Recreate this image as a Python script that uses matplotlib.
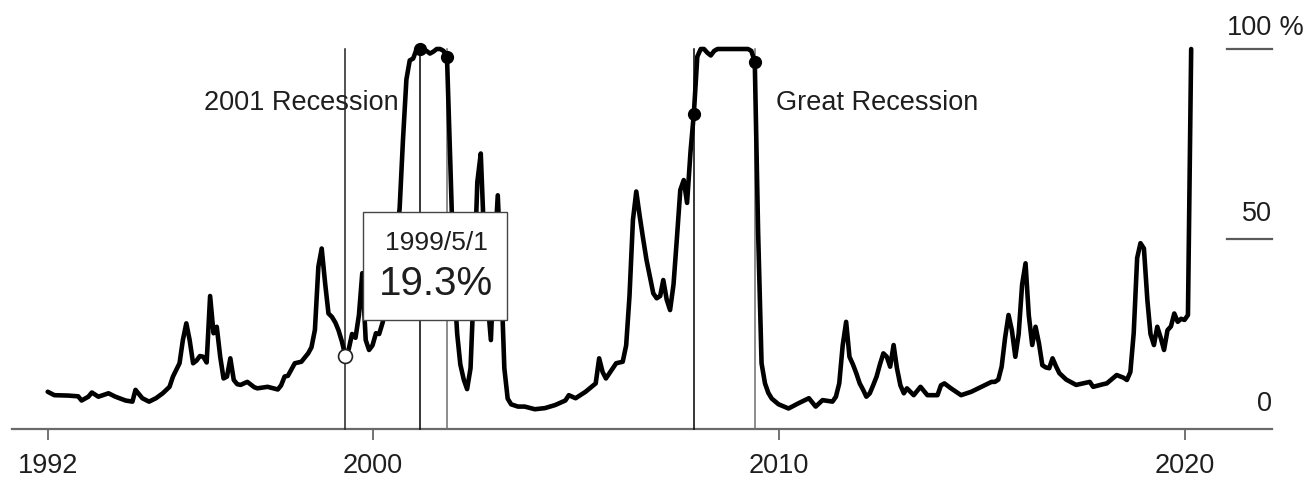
import matplotlib
matplotlib.use("Agg")
import matplotlib.pyplot as plt
import matplotlib.dates as mdates
import matplotlib.transforms as mtransforms
from matplotlib.patches import Rectangle
import pandas as pd

# ---------------- data ----------------
dates = [
    "1992-01", "1992-03", "1992-07", "1992-10", "1992-11", "1993-01", "1993-02", "1993-04",
    "1993-07", "1993-09", "1993-12", "1994-02", "1994-03", "1994-05", "1994-07", "1994-09",
    "1994-11", "1995-01", "1995-02", "1995-04", "1995-05", "1995-06", "1995-07", "1995-08",
    "1995-09", "1995-10", "1995-11", "1995-12", "1996-01", "1996-02", "1996-03", "1996-04",
    "1996-05", "1996-06", "1996-07", "1996-08", "1996-09", "1996-10", "1996-12", "1997-02",
    "1997-03", "1997-06", "1997-09", "1997-10", "1997-11", "1997-12", "1998-02", "1998-04",
    "1998-06", "1998-07", "1998-08", "1998-09", "1998-10", "1998-11", "1998-12", "1999-01",
    "1999-02", "1999-03", "1999-04", "1999-05", "1999-06", "1999-07", "1999-08", "1999-09",
    "1999-10", "1999-11", "1999-12", "2000-01", "2000-02", "2000-03", "2000-04", "2000-05",
    "2000-06", "2000-07", "2000-08", "2000-09", "2000-10", "2000-11", "2000-12", "2001-01",
    "2001-02", "2001-03", "2001-04", "2001-05", "2001-06", "2001-07", "2001-08", "2001-09",
    "2001-10", "2001-11", "2001-12", "2002-01", "2002-02", "2002-03", "2002-04", "2002-05",
    "2002-06", "2002-07", "2002-08", "2002-09", "2002-10", "2002-11", "2002-12", "2003-01",
    "2003-02", "2003-03", "2003-04", "2003-05", "2003-06", "2003-08", "2003-10", "2004-01",
    "2004-04", "2004-07", "2004-10", "2004-11", "2005-01", "2005-04", "2005-07", "2005-08",
    "2005-09", "2005-10", "2006-01", "2006-03", "2006-04", "2006-05", "2006-06", "2006-07",
    "2006-08", "2006-09", "2006-10", "2006-11", "2006-12", "2007-01", "2007-02", "2007-03",
    "2007-04", "2007-05", "2007-06", "2007-07", "2007-08", "2007-09", "2007-10", "2007-11",
    "2007-12", "2008-01", "2008-02", "2008-03", "2008-04", "2008-05", "2008-06", "2008-07",
    "2009-04", "2009-05", "2009-06", "2009-07", "2009-08", "2009-09", "2009-10", "2009-11",
    "2010-01", "2010-04", "2010-07", "2010-10", "2010-12", "2011-02", "2011-05", "2011-06",
    "2011-07", "2011-08", "2011-09", "2011-10", "2011-11", "2011-12", "2012-01", "2012-02",
    "2012-03", "2012-04", "2012-05", "2012-06", "2012-07", "2012-08", "2012-09", "2012-10",
    "2012-11", "2012-12", "2013-01", "2013-02", "2013-03", "2013-05", "2013-07", "2013-09",
    "2013-12", "2014-01", "2014-02", "2014-04", "2014-07", "2014-10", "2015-01", "2015-04",
    "2015-05", "2015-06", "2015-07", "2015-08", "2015-09", "2015-10", "2015-11", "2015-12",
    "2016-01", "2016-02", "2016-03", "2016-04", "2016-05", "2016-06", "2016-07", "2016-08",
    "2016-09", "2016-10", "2016-11", "2016-12", "2017-02", "2017-05", "2017-09", "2017-10",
    "2018-01", "2018-02", "2018-05", "2018-07", "2018-08", "2018-09", "2018-10", "2018-11",
    "2018-12", "2019-01", "2019-02", "2019-03", "2019-04", "2019-05", "2019-06", "2019-07",
    "2019-08", "2019-09", "2019-10", "2019-11", "2019-12", "2020-01", "2020-02", "2020-03",
]
probability = [
    9.8, 8.9, 8.8, 8.6, 7.5, 8.5, 9.6, 8.5,
    9.4, 8.5, 7.5, 7.2, 10.3, 8.1, 7.2, 8.1,
    9.4, 11.1, 13.8, 17.3, 23.4, 27.8, 23.4, 17.3,
    18.0, 19.2, 19.0, 17.5, 35.0, 25.2, 26.9, 19.0,
    13.3, 13.8, 18.6, 12.9, 11.8, 11.6, 12.4, 11.0,
    10.7, 11.1, 10.4, 11.5, 13.8, 14.0, 17.3, 17.7,
    19.9, 21.5, 26.1, 42.7, 47.5, 38.3, 30.4, 29.5,
    28.0, 26.0, 23.0, 19.3, 21.0, 25.0, 24.0, 30.0,
    41.0, 23.4, 20.8, 22.0, 25.2, 25.0, 28.0, 32.0,
    38.0, 45.0, 50.0, 58.0, 76.0, 92.0, 97.0, 97.5,
    100.0, 100.0, 99.5, 99.5, 98.8, 99.3, 100.0, 100.0,
    99.5, 98.0, 70.0, 40.0, 25.0, 17.0, 13.0, 10.5,
    16.0, 38.0, 65.0, 72.5, 50.0, 34.0, 23.4, 45.0,
    61.5, 42.0, 16.0, 8.0, 6.5, 5.9, 5.9, 5.2,
    5.5, 6.3, 7.5, 8.9, 8.1, 9.8, 12.0, 18.6,
    15.0, 13.3, 17.3, 17.7, 22.0, 35.0, 55.0, 62.5,
    56.0, 50.0, 44.5, 40.0, 35.7, 34.4, 35.0, 39.2,
    34.0, 31.3, 38.0, 50.0, 62.9, 65.5, 59.5, 73.0,
    83.0, 98.0, 100.0, 100.0, 99.0, 98.3, 99.5, 100.0,
    100.0, 99.5, 96.7, 52.0, 17.3, 12.0, 9.5, 8.0,
    6.5, 5.4, 6.8, 8.1, 5.9, 7.6, 7.2, 8.5,
    12.0, 22.0, 28.2, 19.0, 17.0, 14.7, 12.0, 10.3,
    8.5, 9.4, 11.5, 13.8, 17.0, 19.9, 19.0, 16.4,
    22.1, 16.0, 11.5, 9.4, 10.7, 8.9, 11.1, 8.9,
    8.9, 11.5, 12.0, 10.7, 8.9, 9.8, 11.1, 12.4,
    12.4, 13.0, 16.4, 24.0, 30.0, 26.0, 19.0, 25.0,
    38.0, 43.6, 30.0, 22.1, 26.9, 22.5, 16.8, 16.2,
    16.0, 18.6, 16.5, 14.7, 13.0, 11.6, 12.4, 11.1,
    11.8, 12.0, 14.2, 13.5, 12.9, 15.0, 25.2, 45.0,
    48.9, 47.5, 33.9, 25.0, 22.1, 26.9, 24.0, 20.8,
    26.0, 27.0, 30.4, 28.2, 29.0, 28.7, 30.0, 100.0,
]

event_dates = ["2001-03", "2001-11", "2007-12", "2009-06"]
recession_names = ["2001 Recession", "Great Recession"]
hover_date = "1999-05"
hover_label = "1999/5/1"
year_ticks = [1992, 2000, 2010, 2020]
y_ticks = [0, 50, 100]
y_tick_labels = ["0", "50", "100"]

# ---------------- style ----------------
plt.rcParams["font.family"] = ["Liberation Sans", "DejaVu Sans"]
TEXT = "#1e1e1e"
GREY = "#5a5a5a"
FS = 19.5

W, H = 1312, 482
fig = plt.figure(figsize=(W / 100, H / 100), dpi=100)
ax = fig.add_axes([12 / W, (H - 429) / H, 1260 / W, 380 / H])

x = pd.to_datetime(dates)
series = dict(zip(dates, probability))

ax.plot(x, probability, color="black", lw=3.3, solid_joinstyle="round",
        solid_capstyle="round", zorder=4, clip_on=False)

# x limits: 2000-01-01 sits at pixel ~372.5, 40.6 px per year
px_per_day = 40.6 / 365.25
anchor = pd.Timestamp("2000-01-01")
ax.set_xlim(anchor - pd.Timedelta(days=(372.5 - 12) / px_per_day),
            anchor + pd.Timedelta(days=(1272 - 372.5) / px_per_day))
ax.set_ylim(0, 100)

for s in ["top", "right", "left"]:
    ax.spines[s].set_visible(False)
ax.spines["bottom"].set_color("#6a6a6a")
ax.spines["bottom"].set_linewidth(1.6)
ax.set_yticks([])
ax.set_xticks([pd.Timestamp(f"{y}-01-01") for y in year_ticks])
ax.set_xticklabels([str(y) for y in year_ticks])
ax.tick_params(axis="x", direction="out", length=8, width=1.2, color=GREY,
               labelsize=FS, labelcolor=TEXT, pad=9)

# right-hand value scale
yt = ax.get_yaxis_transform()
for v, lab in zip(y_ticks, y_tick_labels):
    off = 10 if v == 100 else 13
    if v > 0:
        ax.plot([0.964, 1.0], [v, v], transform=yt, color=GREY, lw=1.6,
                clip_on=False, zorder=2)
    ax.annotate(lab, xy=(1.0, v), xycoords=yt, xytext=(0, off),
                textcoords="offset points", ha="right", va="baseline",
                fontsize=FS, color=TEXT)
    if v == 100:
        ax.annotate(" %", xy=(1.0, v), xycoords=yt, xytext=(0, off),
                    textcoords="offset points", ha="left", va="baseline",
                    fontsize=FS, color=TEXT)

# recession markers
line_colors = ["black", "#6e6e6e", "black", "#6e6e6e"]
for d, c in zip(event_dates, line_colors):
    ax.plot([pd.Timestamp(d)] * 2, [0, 100], color=c, lw=1.1, zorder=3, clip_on=False)
    ax.plot(pd.Timestamp(d), series[d], "o", color="black", ms=8.5, zorder=6, clip_on=False)

ax.annotate(recession_names[0], xy=(pd.Timestamp(event_dates[0]), 85.8),
            xytext=(-15, 0), textcoords="offset points", ha="right", va="center",
            fontsize=FS, color=TEXT)
ax.annotate(recession_names[1], xy=(pd.Timestamp(event_dates[3]), 85.8),
            xytext=(15, 0), textcoords="offset points", ha="left", va="center",
            fontsize=FS, color=TEXT)

# hover crosshair + tooltip
hd = pd.Timestamp(hover_date)
hv = series[hover_date]
ax.plot([hd, hd], [0, 100], color="#222222", lw=1.1, zorder=3, clip_on=False)
ax.plot(hd, hv, "o", mfc="white", mec="#222222", mew=1.2, ms=10, zorder=7, clip_on=False)

hx = mdates.date2num(hd)
tip = mtransforms.IdentityTransform() + mtransforms.ScaledTranslation(hx, hv, ax.transData)
ax.add_patch(Rectangle((18, 36), 144, 108, transform=tip, facecolor="white",
                       edgecolor="#444444", lw=1.0, zorder=8, clip_on=False))
ax.text(91, 113, hover_label, transform=tip, ha="center", va="center",
        fontsize=19, color=TEXT, zorder=9)
ax.text(91, 72, f"{hv:.1f}%", transform=tip, ha="center", va="center",
        fontsize=29, color=TEXT, zorder=9)

fig.savefig("out.png", dpi=100, facecolor="white")
